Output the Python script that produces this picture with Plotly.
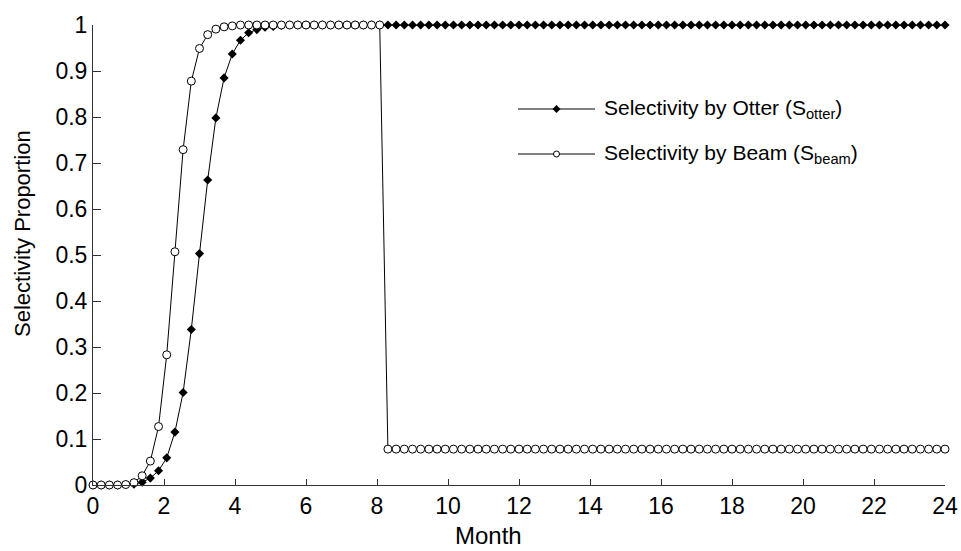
import plotly.graph_objects as go

# Weekly time steps (week index), plotted in months (12 months / 52 weeks)
weeks = list(range(105))
months = [w * 12 / 52 for w in weeks]

otter = ([0.0, 0.0, 0.0, 0.0, 0.001, 0.002, 0.006, 0.015, 0.031, 0.059, 0.115, 0.201,
          0.338, 0.503, 0.663, 0.798, 0.885, 0.937, 0.967, 0.983, 0.990, 0.995, 0.997, 0.999]
         + [1.0] * 81)
beam = ([0.0, 0.0, 0.0, 0.0, 0.001, 0.005, 0.020, 0.052, 0.127, 0.283, 0.507, 0.729,
         0.878, 0.949, 0.979, 0.991, 0.996, 0.998]
        + [1.0] * 18
        + [0.078] * 69)

x_ticks = list(range(0, 25, 2))
y_ticks = [0, 0.1, 0.2, 0.3, 0.4, 0.5, 0.6, 0.7, 0.8, 0.9, 1]
y_tick_text = ["0", "0.1", "0.2", "0.3", "0.4", "0.5", "0.6", "0.7", "0.8", "0.9", "1"]

legend_names = ["Selectivity by Otter (S<sub>otter</sub>)", "Selectivity by Beam (S<sub>beam</sub>)"]
x_title = "Month"
y_title = "Selectivity Proportion"

FONT = "Liberation Sans, Arial, sans-serif"

fig = go.Figure()
fig.add_trace(go.Scatter(
    x=months, y=otter, mode="lines+markers", name=legend_names[0],
    line=dict(color="black", width=1),
    marker=dict(symbol="diamond", size=7, color="black", line=dict(width=0)),
    cliponaxis=False, showlegend=False))
fig.add_trace(go.Scatter(
    x=months, y=beam, mode="lines+markers", name=legend_names[1],
    line=dict(color="black", width=1),
    marker=dict(symbol="circle", size=8, color="white", line=dict(color="black", width=1)),
    cliponaxis=False, showlegend=False))

# custom legend (paper coordinates)
W, H = 961, 551
L, R, T, B = 93, 16, 25, 66
pw, ph = W - L - R, H - T - B
def px2x(px): return (px - L) / pw
def py2y(py): return (H - B - py) / ph

rows = [109, 154]
shapes = []
annotations = []
for i, ry in enumerate(rows):
    yy = py2y(ry)
    shapes.append(dict(type="line", xref="paper", yref="paper",
                       x0=px2x(518), x1=px2x(595), y0=yy, y1=yy,
                       line=dict(color="black", width=1)))
    if i == 0:
        shapes.append(dict(type="path", xref="paper", yref="paper",
                           xsizemode="pixel", ysizemode="pixel",
                           xanchor=px2x(556.5), yanchor=yy,
                           path="M -4 0 L 0 4 L 4 0 L 0 -4 Z",
                           fillcolor="black", line=dict(width=0)))
    else:
        shapes.append(dict(type="circle", xref="paper", yref="paper",
                           xsizemode="pixel", ysizemode="pixel",
                           xanchor=px2x(556.5), yanchor=yy,
                           x0=-3, x1=3, y0=-3, y1=3,
                           fillcolor="white", line=dict(color="black", width=1)))
    annotations.append(dict(text=legend_names[i], xref="paper", yref="paper",
                            x=px2x(602), y=yy, xanchor="left", yanchor="middle",
                            showarrow=False, font=dict(family=FONT, size=21, color="black")))

# axis titles
annotations.append(dict(text=x_title, xref="paper", yref="paper",
                        x=px2x(488), y=py2y(535), xanchor="center", yanchor="middle",
                        showarrow=False, font=dict(family=FONT, size=24, color="black")))
annotations.append(dict(text=y_title, xref="paper", yref="paper", textangle=-90,
                        x=px2x(22), y=py2y(234), xanchor="center", yanchor="middle",
                        showarrow=False, font=dict(family=FONT, size=22, color="black")))

fig.update_layout(
    width=W, height=H,
    margin=dict(l=L, r=R, t=T, b=B, pad=0),
    paper_bgcolor="white", plot_bgcolor="white",
    font=dict(family=FONT, size=22, color="black"),
    shapes=shapes, annotations=annotations,
    showlegend=False,
)
fig.update_xaxes(
    range=[0, 24], tickvals=x_ticks, ticktext=[str(v) for v in x_ticks],
    ticks="inside", ticklen=6, tickcolor="#333", showgrid=False, zeroline=False,
    showline=True, linecolor="#333", linewidth=1,
    tickfont=dict(family=FONT, size=23),
    automargin=False,
)
fig.update_yaxes(
    range=[0, 1], tickvals=y_ticks, ticktext=y_tick_text,
    ticks="inside", ticklen=8, tickcolor="#333", showgrid=False, zeroline=False,
    showline=True, linecolor="#333", linewidth=1,
    tickfont=dict(family=FONT, size=23),
    automargin=False,
)

fig.write_html("out.html")
